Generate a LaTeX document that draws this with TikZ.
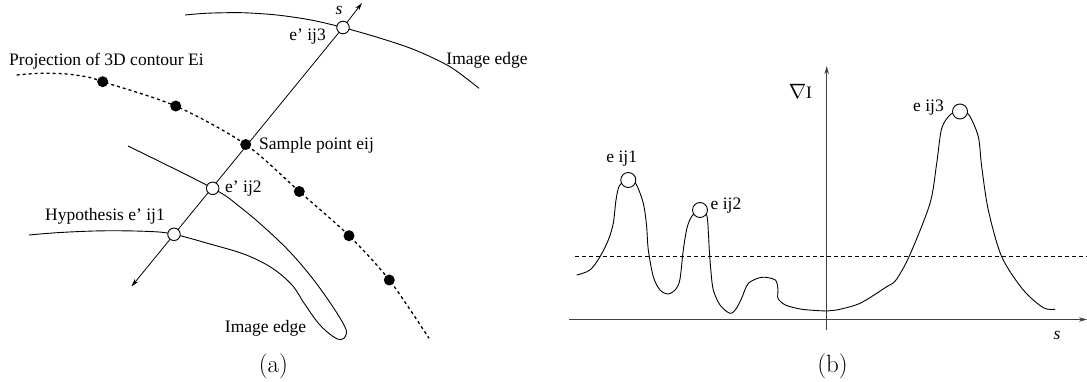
\documentclass[tikz,border=0pt]{standalone}
\usepackage{fontspec}
\setmainfont{Liberation Serif}
\usetikzlibrary{arrows.meta}
\begin{document}
\begin{tikzpicture}[x=1pt,y=-1pt,
  lbl/.style={font=\fontsize{17.5}{20}\selectfont, inner sep=0pt},
  captext/.style={font=\fontfamily{lmr}\fontsize{25}{28}\selectfont, inner sep=0pt},
  curve/.style={line width=0.9pt, line join=round},
  hollow/.style={circle, draw, fill=white, line width=0.9pt, minimum size=12.5pt, inner sep=0pt},
  dot/.style={circle, fill=black, minimum size=11pt, inner sep=0pt},
  peak/.style={circle, draw, fill=white, line width=0.9pt, minimum size=15pt, inner sep=0pt},
  axis/.style={line width=1.5pt, draw=black!75},
  tip/.style={-{Stealth[length=8pt,width=4.5pt]}}
]
\useasboundingbox (0,0) rectangle (1087,381);

% ---------------- panel (a) ----------------
\coordinate (tipB) at (131.5,286.5);
\coordinate (tipT) at (362,3);
\coordinate (p3) at (343,27.5);
\coordinate (p2) at (212.7,188.3);
\coordinate (p1) at (174,234.3);
\coordinate (se) at (245.7,144.5);

% top image edge
\draw[curve] plot[smooth] coordinates {(185,15) (207.6,13.2) (242,12.7) (277,15) (311,20) (p3) (380.6,38.3) (415,50) (450,66.7) (479,88.3)};
% lower image edge (through e'ij1 and e'ij2)
\draw[curve] plot[smooth, tension=0.6] coordinates {(29,235) (60,232.5) (104,230.8) (150,231.5) (p1) (210,244) (245,254.5) (272,268) (292,285) (304,303) (319,324) (333.5,336.8) (341.5,339.5) (346,335) (345,327) (333,307) (313,279) (290,252) (265,228) (240,207) (p2) (128,146)};
% dashed projection of contour
\draw[line width=1.3pt, dash pattern=on 3pt off 3pt] plot[smooth] coordinates {(16.7,75) (40,73.3) (67,74) (90,77.5) (102.7,81.7) (175.7,106) (se) (299.3,191.5) (349,235.7) (389.3,280) (429,338.3)};
% normal line s
\draw[line width=0.8pt, tip] (p3) -- (tipT);
\draw[line width=0.8pt, tip] (p3) -- (tipB);

\node[dot] (d1) at (102.7,81.7) {};
\node[dot] (d2) at (175.7,106) {};
\node[dot] (ds) at (se) {};
\node[dot] (d4) at (299.3,191.5) {};
\node[dot] (d5) at (349,235.7) {};
\node[dot] (d6) at (389.3,280) {};
\node[hollow] (h3) at (p3) {};
\node[hollow] (h2) at (p2) {};
\node[hollow] (h1) at (p1) {};

\node[lbl] (ls) at (339,10) {\textit{s}};
\node[lbl, anchor=east] (l3) at (326,37) {e' ij3};
\node[lbl] (lie1) at (487,60) {Image edge};
\node[lbl, anchor=west] (lproj) at (9,61) {Projection of 3D contour Ei};
\node[lbl, anchor=west] (lsp) at (259,145) {Sample point eij};
\node[lbl, anchor=west] (l2) at (225,188.5) {e' ij2};
\node[lbl, anchor=east] (l1) at (165,216.5) {Hypothesis e' ij1};
\node[lbl] (lie2) at (265.5,328.5) {Image edge};
\node[captext] (capa) at (273.4,366.5) {(a)};

% ---------------- panel (b) ----------------
\coordinate (o) at (826.7,319.5);
\coordinate (ytop) at (826.7,66);
\coordinate (ybot) at (826.7,330);
\coordinate (xl) at (569.4,319.5);
\coordinate (xr) at (1087,319.5);
\coordinate (q1) at (628.3,180);
\coordinate (q2) at (700,210);
\coordinate (q3) at (960,111.5);

\draw[line width=0.8pt, dash pattern=on 4pt off 3pt] (575,256) -- (1087,256);
\draw[axis, tip] (ybot) -- (ytop);
\draw[axis, tip] (xl) -- (xr);

\draw[curve] plot[smooth, tension=0.5] coordinates {(576.8,275) (590,270) (600,256.7) (608.3,240) (613.3,223.3) (616,200) (619.5,185.5) (q1) (636,184) (643.3,203.3) (646.5,225) (648.3,250) (653.3,276.7) (660,290) (668.3,294) (676,289) (680,279) (683.3,250) (687,228) (692,216) (q2) (706.7,215) (708.5,235) (709.3,250) (711,272) (713.3,290) (720,305) (729.9,313.3) (736,309) (741.6,298.3) (748.4,283.3) (761.8,277.3) (775.3,280) (778,290) (778,298.3) (785.4,305) (802.2,309.3) (826.7,311) (836.7,310) (860,303.3) (886.7,286.7) (896,280) (909.8,255) (930,203.3) (936.7,163.3) (941.7,128.3) (951,114) (q3) (969,115) (978.3,136.7) (981.7,166.7) (988.3,210) (1001.7,256.7) (1023.3,290) (1043.3,307.7) (1055,309.3)};

\node[peak] (e1) at (q1) {};
\node[peak] (e2) at (q2) {};
\node[peak] (e3) at (q3) {};

\node[lbl] (le1) at (621.7,158.5) {e ij1};
\node[lbl, anchor=west] (le2) at (710.5,205.5) {e ij2};
\node[lbl, anchor=east] (le3) at (944,107.5) {e ij3};
\node[lbl] (lgrad) at (800.5,91) {{\fontsize{21}{23}\selectfont$\nabla$}I};
\node[lbl] (lsb) at (1057,335) {\textit{s}};
\node[captext] (capb) at (832.5,366.5) {(b)};
\end{tikzpicture}
\end{document}
